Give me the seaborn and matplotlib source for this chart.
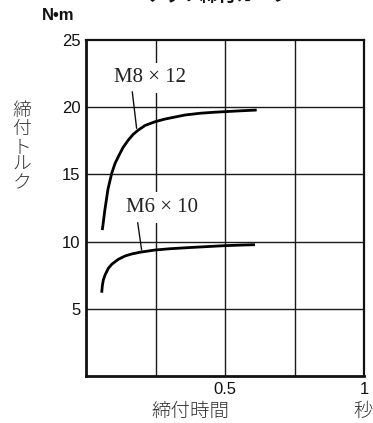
import matplotlib
matplotlib.use("Agg")
import matplotlib.pyplot as plt
import seaborn as sns
import pandas as pd

# Tightening torque (N·m) vs. tightening time (s) for two bolt sizes
m8_time = [0.0586, 0.0683, 0.0791, 0.0924, 0.1043, 0.1162, 0.1331, 0.1522, 0.1691,
           0.1881, 0.2122, 0.2482, 0.2842, 0.3201, 0.3561, 0.4101, 0.4640, 0.5000,
           0.5540, 0.6140]
m8_torque = [10.86, 12.43, 13.91, 15.08, 15.81, 16.32, 17.00, 17.56, 17.97,
             18.30, 18.64, 18.92, 19.12, 19.27, 19.42, 19.55, 19.63, 19.67,
             19.73, 19.79]
m6_time = [0.0565, 0.0586, 0.0622, 0.0683, 0.0802, 0.0935, 0.1162, 0.1403, 0.1644,
           0.1942, 0.2482, 0.3022, 0.3741, 0.4460, 0.5000, 0.5540, 0.6079]
m6_torque = [6.20, 6.70, 7.14, 7.51, 8.01, 8.33, 8.68, 8.93, 9.08,
             9.21, 9.375, 9.47, 9.56, 9.64, 9.70, 9.74, 9.77]
series_names = ["M8 × 12", "M6 × 10"]

y_ticks = [5, 10, 15, 20, 25]
x_ticks = [0.5, 1]
x_tick_labels = ["0.5", "1"]

df = pd.concat([
    pd.DataFrame({"time": m8_time, "torque": m8_torque, "bolt": series_names[0]}),
    pd.DataFrame({"time": m6_time, "torque": m6_torque, "bolt": series_names[1]}),
])

sns.set_style("white")
plt.rcParams["font.family"] = ["Liberation Sans", "Noto Sans CJK JP", "DejaVu Sans"]

fig = plt.figure(figsize=(3.73, 4.23), dpi=100)
ax = fig.add_axes([0.2306, 0.1111, 0.7453, 0.7943])

# grid
for gx in [0.25, 0.5, 0.75]:
    ax.axvline(gx, color="#1a1a1a", lw=1.0, zorder=1)
for gy in [5, 10, 15, 20]:
    ax.axhline(gy, color="#1a1a1a", lw=1.0, zorder=1)

sns.lineplot(data=df, x="time", y="torque", units="bolt", estimator=None,
             color="black", lw=2.0, sort=False, ax=ax, zorder=3,
             solid_joinstyle="round", solid_capstyle="butt")

ax.set_xlim(0, 1)
ax.set_ylim(0, 25)
ax.set_yticks(y_ticks)
ax.set_xticks(x_ticks)
ax.set_xticklabels(x_tick_labels)
ax.tick_params(length=0, labelsize=12, pad=4, colors="#111111")
ax.set_xlabel("")
ax.set_ylabel("")
for side in ["left", "bottom", "top", "right"]:
    ax.spines[side].set_visible(True)
    ax.spines[side].set_color("#111111")
ax.spines["left"].set_linewidth(2.0)
ax.spines["bottom"].set_linewidth(2.0)
ax.spines["top"].set_linewidth(1.6)
ax.spines["right"].set_linewidth(1.6)

# curve labels with leader lines
serif = ["Liberation Serif", "DejaVu Serif"]
ax.text(0.230, 22.2, series_names[0], ha="center", va="center", fontsize=15,
        family=serif, color="#222222", zorder=4,
        bbox=dict(facecolor="white", edgecolor="none", pad=4))
ax.plot([0.1665, 0.182], [21.15, 18.43], color="#111111", lw=1.0, zorder=4)

ax.text(0.2716, 12.54, series_names[1], ha="center", va="center", fontsize=15,
        family=serif, color="#222222", zorder=4,
        bbox=dict(facecolor="white", edgecolor="none", pad=4))
ax.plot([0.186, 0.200], [11.41, 9.375], color="#111111", lw=1.0, zorder=4)

# axis titles
jp = ["Noto Sans CJK JP", "DejaVu Sans"]
fig.text(58 / 373, 1 - 16 / 423, "N•m", ha="center", va="center", fontsize=12,
         fontweight="bold", color="#111111", family=["Liberation Sans", "DejaVu Sans"])
fig.text(22 / 373, 1 - 147 / 423, "\n".join("締付トルク"), ha="center", va="center",
         fontsize=13.5, linespacing=1.0, color="#333333", family=jp, fontweight="light")
fig.text(190 / 373, 1 - 411 / 423, "締付時間", ha="center", va="center",
         fontsize=14, color="#333333", family=jp, fontweight="light")
fig.text(363 / 373, 1 - 411 / 423, "秒", ha="center", va="center",
         fontsize=14, color="#333333", family=jp, fontweight="light")
fig.text(218 / 373, 1 + 5 / 423, "ナット締付カーブ", ha="center", va="center",
         fontsize=13, color="#111111", family=jp, fontweight="bold")

fig.savefig("out.png", dpi=100, facecolor="white")
